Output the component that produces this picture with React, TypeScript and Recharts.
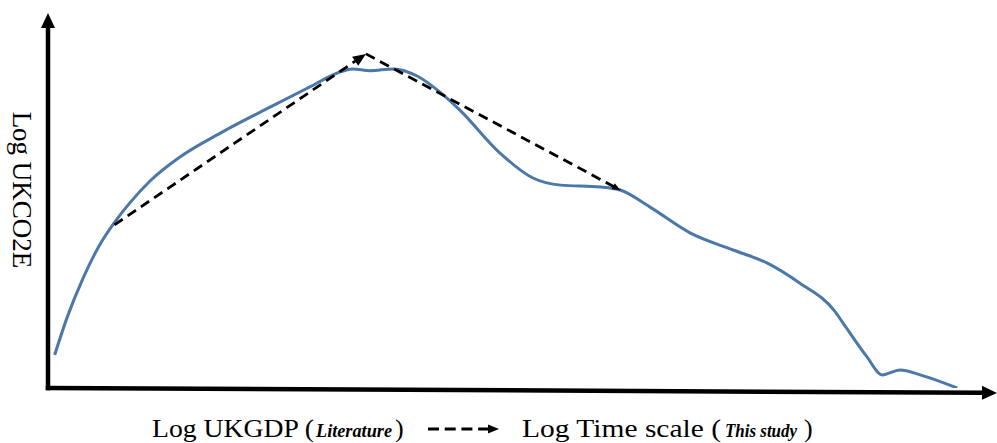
import React from 'react';
import { LineChart, Line, XAxis, YAxis, ReferenceLine } from 'recharts';

// Blue curve: position along the time scale (0-100) vs log UKCO2E (0-100)
const curveX = [0.7, 2.0, 3.7, 5.5, 7.05, 8.6, 10.75, 13.9, 18.4, 23.4, 27.6, 30.5, 32.1, 33.9, 36.4, 38.9, 41.3, 43.4, 47.6, 51.1, 54.0, 58.2, 60.3, 63.4, 67.7, 72.2, 75.8, 79.2, 82.9, 84.0, 86.3, 87.9, 89.8, 91.9, 95.8];
const curveY = [8.8, 18.7, 29.3, 38.4, 44.3, 49.3, 55.2, 61.6, 68.3, 74.9, 80.3, 84.0, 85.1, 84.6, 85.1, 83.2, 78.9, 74.1, 62.7, 56.0, 54.1, 53.6, 52.8, 48.3, 41.3, 36.8, 33.3, 28.0, 20.5, 16.5, 8.3, 3.5, 4.8, 3.5, 0.0];

// Dashed "literature" path: rise then fall
const riseX = [7.0, 33.5];
const riseY = [43.5, 89.1];
const fallX = [33.5, 60.3];
const fallY = [89.1, 52.8];

const curveData = curveX.map((x, i) => ({ x, y: curveY[i] }));
const riseData = riseX.map((x, i) => ({ x, y: riseY[i] }));
const fallData = fallX.map((x, i) => ({ x, y: fallY[i] }));

const SERIF = '"Liberation Serif", "Times New Roman", serif';

// arrow head drawn at the last point of a dashed segment
const makeArrowDot = (len: number, half: number) => (props: any) => {
  const { cx, cy, index, points } = props;
  if (!points || index !== points.length - 1 || index === 0) return <g key={`d-${index}`} />;
  const prev = points[index - 1];
  const a = Math.atan2(cy - prev.y, cx - prev.x);
  const bx = cx - len * Math.cos(a);
  const by = cy - len * Math.sin(a);
  const nx = -Math.sin(a) * half;
  const ny = Math.cos(a) * half;
  return (
    <polygon
      key={`d-${index}`}
      points={`${cx},${cy} ${bx + nx},${by + ny} ${bx - nx},${by - ny}`}
      fill="#000"
    />
  );
};

// axis line with a filled arrow head at its far end
const AxisArrow = (props: any) => {
  const { x1, y1, x2, y2 } = props;
  const a = Math.atan2(y2 - y1, x2 - x1);
  const len = 15;
  const half = 7;
  const bx = x2 - len * Math.cos(a);
  const by = y2 - len * Math.sin(a);
  const nx = -Math.sin(a) * half;
  const ny = Math.cos(a) * half;
  return (
    <g>
      <line x1={x1} y1={y1} x2={bx} y2={by} stroke="#000" strokeWidth={4.5} strokeLinecap="square" />
      <polygon points={`${x2},${y2} ${bx + nx},${by + ny} ${bx - nx},${by - ny}`} fill="#000" />
    </g>
  );
};

export default function App() {
  return (
    <div style={{ position: 'absolute', left: 0, top: 0, width: 997, height: 443, background: '#fff' }}>
      <LineChart width={997} height={443} margin={{ top: 13, right: 0, bottom: 55, left: 48 }}>
        <XAxis type="number" dataKey="x" domain={[0, 100]} hide allowDataOverflow />
        <YAxis type="number" dataKey="y" domain={[0, 100]} hide allowDataOverflow />
        <ReferenceLine
          segment={[{ x: 0, y: 0 }, { x: 0, y: 100 }]}
          ifOverflow="visible"
          shape={AxisArrow}
        />
        <ReferenceLine
          segment={[{ x: 0, y: 0 }, { x: 100, y: -1.3 }]}
          ifOverflow="visible"
          shape={AxisArrow}
        />
        <Line
          data={curveData}
          dataKey="y"
          type="monotone"
          stroke="#4b78a8"
          strokeWidth={3}
          dot={false}
          isAnimationActive={false}
        />
        <Line
          data={riseData}
          dataKey="y"
          type="linear"
          stroke="#000"
          strokeWidth={2.8}
          strokeDasharray="10 6"
          dot={makeArrowDot(13, 5.5)}
          isAnimationActive={false}
        />
        <Line
          data={fallData}
          dataKey="y"
          type="linear"
          stroke="#000"
          strokeWidth={2.8}
          strokeDasharray="10 6"
          dot={makeArrowDot(8, 3.5)}
          isAnimationActive={false}
        />
      </LineChart>
      <svg
        width={997}
        height={443}
        style={{ position: 'absolute', left: 0, top: 0, pointerEvents: 'none' }}
        fontFamily={SERIF}
      >
        <text transform="translate(13,190) rotate(90)" textAnchor="middle" fontSize={27} fill="#000">
          Log UKCO2E
        </text>
        <text x={152} y={437} fontSize={26} textLength={162} lengthAdjust="spacingAndGlyphs" fill="#000">Log UKGDP (</text>
        <text x={316} y={437} fontSize={19} fontWeight="bold" fontStyle="italic" textLength={76} lengthAdjust="spacingAndGlyphs" fill="#000">Literature</text>
        <text x={395} y={437} fontSize={26} fill="#000">)</text>
        <line x1={428} y1={429} x2={489} y2={429} stroke="#000" strokeWidth={3.2} strokeDasharray="11 5.7" />
        <polygon points="499,429 488,424.5 488,433.5" fill="#000" />
        <text x={522} y={437} fontSize={26} textLength={199} lengthAdjust="spacingAndGlyphs" fill="#000">Log Time scale (</text>
        <text x={725} y={437} fontSize={19} fontWeight="bold" fontStyle="italic" textLength={72} lengthAdjust="spacingAndGlyphs" fill="#000">This study</text>
        <text x={804} y={437} fontSize={26} fill="#000">)</text>
      </svg>
    </div>
  );
}
